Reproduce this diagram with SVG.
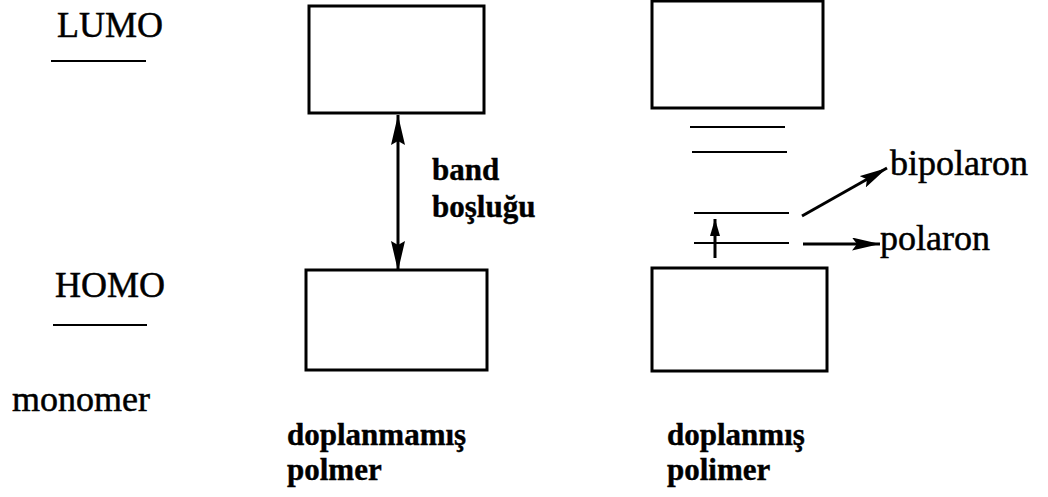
<svg xmlns="http://www.w3.org/2000/svg" width="1048" height="497" viewBox="0 0 1048 497">
  <style>
    .t { font-family: "Liberation Serif", "Times New Roman", serif; font-size: 36px; fill: #000; stroke: #000; stroke-width: 0.5; }
    .b { font-family: "Liberation Serif", "Times New Roman", serif; font-size: 31px; font-weight: bold; fill: #000; stroke: #000; stroke-width: 0.4; }
    .box { fill: #fff; stroke: #000; stroke-width: 3; }
    .lvl { stroke: #000; stroke-width: 2.2; fill: none; }
    .arr { stroke: #000; stroke-width: 3; fill: none; }
  </style>
  <defs>
    <marker id="ahbig" viewBox="0 0 30 14" refX="30" refY="7" markerWidth="30" markerHeight="14" markerUnits="userSpaceOnUse" orient="auto-start-reverse">
      <path d="M0,0 L30,7 L0,14 L4,7 z" fill="#000"/>
    </marker>
    <marker id="ahmid" viewBox="0 0 28 13" refX="28" refY="6.5" markerWidth="28" markerHeight="13" markerUnits="userSpaceOnUse" orient="auto">
      <path d="M0,0 L28,6.5 L0,13 L5,6.5 z" fill="#000"/>
    </marker>
    <marker id="ahup" viewBox="0 0 17 10" refX="17" refY="5" markerWidth="17" markerHeight="10" markerUnits="userSpaceOnUse" orient="auto">
      <path d="M0,0 L17,5 L0,10 z" fill="#000"/>
    </marker>
  </defs>

  <g id="monomer">
    <text class="t" x="57" y="37">LUMO</text>
    <line class="lvl" x1="51" y1="61" x2="146" y2="61"/>
    <text class="t" x="55" y="297">HOMO</text>
    <line class="lvl" x1="53" y1="325" x2="147" y2="325"/>
    <text class="t" x="12" y="411">monomer</text>
  </g>

  <g id="undoped">
    <rect class="box" x="309" y="6" width="175" height="107"/>
    <rect class="box" x="306" y="270" width="181" height="100"/>
    <text class="b" x="287" y="445">doplanmamış</text>
    <text class="b" x="287" y="480">polmer</text>
  </g>

  <g id="bandgap-label">
    <text class="b" x="432" y="180">band</text>
    <text class="b" x="432" y="217">boşluğu</text>
  </g>

  <g id="doped">
    <rect class="box" x="652" y="1" width="171" height="107"/>
    <line class="lvl" x1="690" y1="127" x2="785" y2="127"/>
    <line class="lvl" x1="692" y1="152" x2="787" y2="152"/>
    <line class="lvl" x1="694" y1="213" x2="789" y2="213"/>
    <line class="lvl" x1="694" y1="243" x2="789" y2="243"/>
    <rect class="box" x="652" y="268" width="175" height="103"/>
    <text class="b" x="667" y="445">doplanmış</text>
    <text class="b" x="667" y="480">polimer</text>
  </g>

  <g id="bipolaron-label">
    <text class="t" x="890" y="175">bipolaron</text>
  </g>
  <g id="polaron-label">
    <text class="t" x="880" y="250">polaron</text>
  </g>

  <g id="connectors">
    <line class="arr" x1="398" y1="115" x2="398" y2="271" marker-start="url(#ahbig)" marker-end="url(#ahbig)"/>
    <line class="arr" x1="715" y1="258" x2="715" y2="219" marker-end="url(#ahup)"/>
    <line class="arr" x1="802" y1="216" x2="887" y2="168" marker-end="url(#ahmid)"/>
    <line class="arr" x1="803" y1="244" x2="880" y2="244" marker-end="url(#ahmid)"/>
  </g>
</svg>
